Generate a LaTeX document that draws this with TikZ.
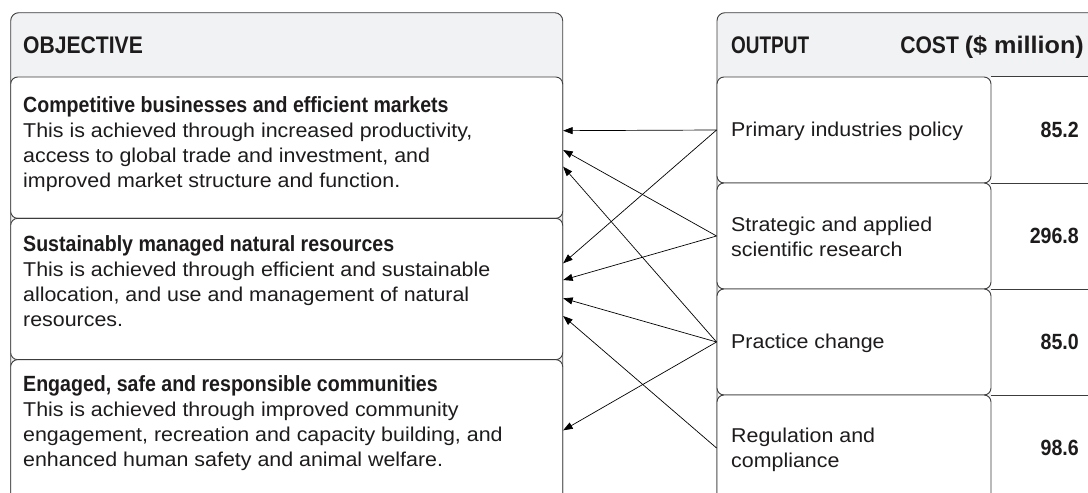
\documentclass[tikz,border=0pt]{standalone}
\usepackage{fontspec}
\setmainfont{Liberation Sans}[FakeStretch=1.07]
\newfontfamily\hdfont{Liberation Sans}[FakeStretch=0.88]
\newfontfamily\hdnarrow{Liberation Sans}[FakeStretch=0.79]
\newfontfamily\hdwide{Liberation Sans}[FakeStretch=1.05]
\newfontfamily\ttlfont{Liberation Sans}[FakeStretch=0.89]
\usetikzlibrary{arrows.meta}
\definecolor{hdgrey}{HTML}{F1F2F3}
\definecolor{linegrey}{HTML}{3C3C3C}
\definecolor{txt}{HTML}{1E1B1C}
\begin{document}
\begin{tikzpicture}[x=1pt,y=-1pt,
  panel/.style={rectangle, draw=linegrey, line width=0.9pt, fill=hdgrey, rounded corners=8pt, inner sep=0pt},
  objbox/.style={rectangle, draw=linegrey, line width=0.9pt, fill=white, rounded corners=7pt, minimum width=552pt, minimum height=141.33pt, inner sep=0pt},
  outbox/.style={rectangle, draw=linegrey, line width=0.9pt, fill=white, rounded corners=7pt, minimum width=274pt, minimum height=106pt, inner sep=0pt},
  gridline/.style={draw=linegrey, line width=0.9pt},
  hdtext/.style={inner sep=0pt, font=\hdfont\bfseries\fontsize{24}{28}\selectfont, text=txt},
  titletext/.style={anchor=base west, inner sep=0pt, font=\ttlfont\bfseries\fontsize{22}{25}\selectfont, text=txt},
  bodytext/.style={anchor=base west, inner sep=0pt, font=\fontsize{20}{25}\selectfont, text=txt},
  costtext/.style={anchor=base east, inner sep=0pt, font=\ttlfont\bfseries\fontsize{22}{25}\selectfont, text=txt},
  conn/.style={draw=black, line width=0.7pt, -{Triangle[length=9.5pt,width=7pt]}}
]
\useasboundingbox (0,0) rectangle (1088,493);
\clip (0,0) rectangle (1088,493);

% panels
\node[panel, minimum width=552pt, minimum height=517.3pt] (objpanel) at (286.7,271.35) {};
\node[panel, minimum width=400pt, minimum height=517.3pt] (outpanel) at (917,271.35) {};
\fill[white] (991,77) rectangle (1120,540);

% objective boxes
\node[objbox] (obj1) at (286.7,147.67) {};
\node[objbox] (obj2) at (286.7,289) {};
\node[objbox] (obj3) at (286.7,430.33) {};

% output boxes
\node[outbox] (out1) at (854,130) {};
\node[outbox] (out2) at (854,236) {};
\node[outbox] (out3) at (854,342) {};
\node[outbox] (out4) at (854,448) {};

% cost column lines
\draw[gridline] (out1.north east) -- ++(140,0);
\draw[gridline] (out1.south east) -- ++(140,0);
\draw[gridline] (out2.south east) -- ++(140,0);
\draw[gridline] (out3.south east) -- ++(140,0);

% headers
\node[hdtext, anchor=base west] (objhd) at (23,53) {OBJECTIVE};
\node[hdtext, anchor=base west, font=\hdnarrow\bfseries\fontsize{24}{28}\selectfont] (outhd) at (731,53) {OUTPUT};
\node[hdtext, anchor=base east] (costhd) at (1084,53) {COST {\hdwide\bfseries(\$ million)}};

% objective texts
\node[titletext] (o1t) at (23,112) {Competitive businesses and efficient markets};
\node[bodytext] (o1a) at (23,137) {This is achieved through increased productivity,};
\node[bodytext] (o1b) at (23,162) {access to global trade and investment, and};
\node[bodytext] (o1c) at (23,187) {improved market structure and function.};

\node[titletext] (o2t) at (23,251) {Sustainably managed natural resources};
\node[bodytext] (o2a) at (23,276) {This is achieved through efficient and sustainable};
\node[bodytext] (o2b) at (23,301) {allocation, and use and management of natural};
\node[bodytext] (o2c) at (23,326) {resources.};

\node[titletext] (o3t) at (23,391) {Engaged, safe and responsible communities};
\node[bodytext] (o3a) at (23,416) {This is achieved through improved community};
\node[bodytext] (o3b) at (23,441) {engagement, recreation and capacity building, and};
\node[bodytext] (o3c) at (23,466) {enhanced human safety and animal welfare.};

% output texts
\node[bodytext] (p1) at (731,136) {Primary industries policy};
\node[bodytext] (p2a) at (731,231) {Strategic and applied};
\node[bodytext] (p2b) at (731,256) {scientific research};
\node[bodytext] (p3) at (731,348) {Practice change};
\node[bodytext] (p4a) at (731,442) {Regulation and};
\node[bodytext] (p4b) at (731,467) {compliance};

% costs
\node[costtext] (c1) at (1079,137) {85.2};
\node[costtext] (c2) at (1079,243) {296.8};
\node[costtext] (c3) at (1079,349) {85.0};
\node[costtext] (c4) at (1079,455) {98.6};

% connectors
\draw[conn] (out1.west) -- ([yshift=17pt]obj1.east);
\draw[conn] (out1.west) -- ([yshift=25.7pt]obj2.east);
\draw[conn] (out2.west) -- ([yshift=-2.33pt]obj1.east);
\draw[conn] (out2.west) -- ([yshift=9pt]obj2.east);
\draw[conn] (out3.west) -- ([yshift=-19pt]obj1.east);
\draw[conn] (out3.west) -- ([yshift=-9.3pt]obj2.east);
\draw[conn] (out3.west) -- (obj3.east);
\draw[conn] (out4.west) -- ([yshift=-27pt]obj2.east);
\end{tikzpicture}
\end{document}
